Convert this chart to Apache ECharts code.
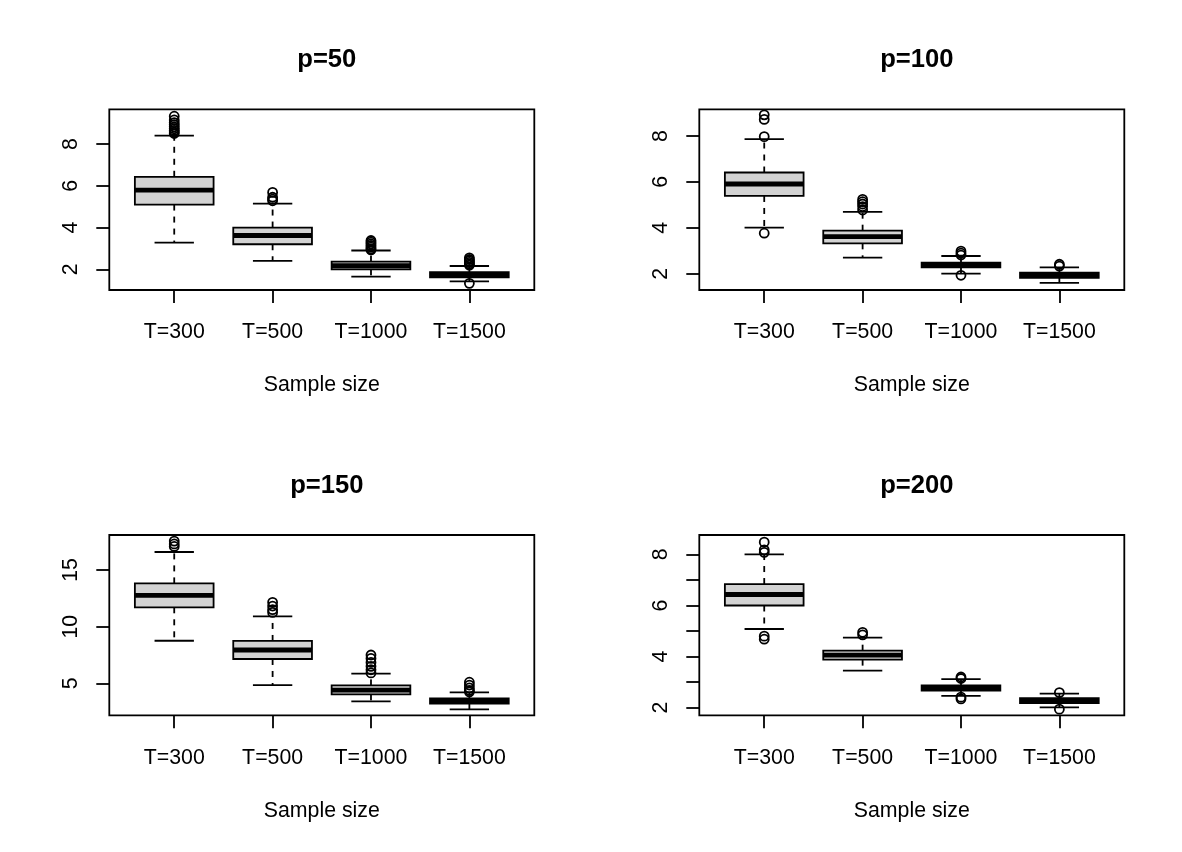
<!DOCTYPE html>
<html>
<head>
<meta charset="utf-8">
<script src="https://cdn.jsdelivr.net/npm/echarts@6/dist/echarts.min.js"></script>
<style>
html,body{margin:0;padding:0;background:#fff;}
#chart{width:1182px;height:852px;}
</style>
</head>
<body>
<div id="chart"></div>
<script>
// ---- data ----
const categories = ['T=300', 'T=500', 'T=1000', 'T=1500'];
const panelTitles = ['p=50', 'p=100', 'p=150', 'p=200'];
const xAxisName = 'Sample size';

// box stats per category: [lower whisker, Q1, median, Q3, upper whisker]
const statsP50 = [
  [3.28, 5.10, 5.79, 6.43, 8.40],
  [2.40, 3.20, 3.62, 4.00, 5.14],
  [1.65, 2.00, 2.17, 2.37, 2.90],
  [1.42, 1.62, 1.75, 1.87, 2.16]
];
const statsP100 = [
  [4.01, 5.39, 5.91, 6.41, 7.86],
  [2.71, 3.33, 3.62, 3.88, 4.70],
  [2.01, 2.28, 2.39, 2.49, 2.78],
  [1.61, 1.83, 1.94, 2.06, 2.28]
];
const statsP150 = [
  [8.76, 11.71, 12.76, 13.82, 16.59],
  [4.85, 7.15, 7.94, 8.74, 10.91],
  [3.41, 4.03, 4.41, 4.82, 5.85],
  [2.71, 3.21, 3.47, 3.68, 4.21]
];
const statsP200 = [
  [5.08, 6.00, 6.43, 6.84, 8.00],
  [3.45, 3.88, 4.06, 4.23, 4.74],
  [2.46, 2.67, 2.77, 2.87, 3.12],
  [2.01, 2.18, 2.27, 2.37, 2.55]
];

// outliers per category
const outP50 = [
  [9.33, 9.15, 9.02, 8.92, 8.82, 8.73, 8.65, 8.57, 8.50],
  [5.68, 5.45, 5.36, 5.28],
  [3.38, 3.30, 3.22, 3.14, 3.06, 2.98, 2.93],
  [2.55, 2.47, 2.40, 2.33, 2.26, 2.20, 1.33]
];
const outP100 = [
  [8.92, 8.72, 7.97, 3.77],
  [5.24, 5.14, 5.04, 4.93, 4.78],
  [2.99, 2.90, 2.82, 1.94],
  [2.42, 2.34]
];
const outP150 = [
  [17.55, 17.30, 17.08],
  [12.15, 11.82, 11.50, 11.26],
  [7.50, 7.20, 6.85, 6.50, 6.20, 5.92],
  [5.10, 4.85, 4.60, 4.38, 4.25]
];
const outP200 = [
  [8.48, 8.18, 8.08, 4.80, 4.68],
  [4.95, 4.85],
  [3.20, 3.14, 2.41, 2.34],
  [2.59, 1.94]
];

// axis extents (R style 4% extension) and ticks
const yRanges = [[1.01, 9.66], [1.30, 9.16], [2.18, 18.09], [1.70, 8.76]];
const yTicks = [[2, 4, 6, 8], [2, 4, 6, 8], [5, 10, 15], [2, 3, 4, 5, 6, 7, 8]];
const yLabels = [[2, 4, 6, 8], [2, 4, 6, 8], [5, 10, 15], [2, 4, 6, 8]];
const xTicks = [1, 2, 3, 4];

// ---- layout ----
const panels = [
  {left: 109.3, top: 109.3, width: 425, height: 180.7},
  {left: 699.3, top: 109.3, width: 425, height: 180.7},
  {left: 109.3, top: 535, width: 425, height: 180.3},
  {left: 699.3, top: 535, width: 425, height: 180.3}
];
const allStats = [statsP50, statsP100, statsP150, statsP200];
const allOut = [outP50, outP100, outP150, outP200];

const FONT = 'Liberation Sans, Arial, Helvetica, sans-serif';
const BASE = 21.3;
const LW = 1.8;

function renderBox(params, api) {
  const x = api.value(0);
  const lo = api.value(1), q1 = api.value(2), med = api.value(3), q3 = api.value(4), hi = api.value(5);
  const half = api.size([0.4, 0])[0];
  const sh = api.size([0.2, 0])[0];
  const pLo = api.coord([x, lo]), pQ1 = api.coord([x, q1]), pMed = api.coord([x, med]);
  const pQ3 = api.coord([x, q3]), pHi = api.coord([x, hi]);
  const cx = pMed[0];
  return {
    type: 'group',
    children: [
      {type: 'line', shape: {x1: cx, y1: pQ3[1], x2: cx, y2: pHi[1]},
        style: {stroke: '#000', lineWidth: LW, lineDash: [6, 6]}},
      {type: 'line', shape: {x1: cx, y1: pQ1[1], x2: cx, y2: pLo[1]},
        style: {stroke: '#000', lineWidth: LW, lineDash: [6, 6]}},
      {type: 'line', shape: {x1: cx - sh, y1: pHi[1], x2: cx + sh, y2: pHi[1]},
        style: {stroke: '#000', lineWidth: LW}},
      {type: 'line', shape: {x1: cx - sh, y1: pLo[1], x2: cx + sh, y2: pLo[1]},
        style: {stroke: '#000', lineWidth: LW}},
      {type: 'rect', shape: {x: cx - half, y: pQ3[1], width: 2 * half, height: pQ1[1] - pQ3[1]},
        style: {fill: '#d3d3d3', stroke: '#000', lineWidth: LW}},
      {type: 'line', shape: {x1: cx - half, y1: pMed[1], x2: cx + half, y2: pMed[1]},
        style: {stroke: '#000', lineWidth: 4.8, lineCap: 'butt'}}
    ]
  };
}

const option = {
  backgroundColor: '#fff',
  animation: false,
  title: [],
  grid: [],
  xAxis: [],
  yAxis: [],
  series: []
};

panels.forEach((p, i) => {
  option.title.push({
    text: panelTitles[i],
    left: p.left + p.width / 2,
    top: p.top - 67,
    textAlign: 'center',
    textStyle: {fontFamily: FONT, fontSize: 25.6, fontWeight: 'bold', color: '#000'}
  });
  option.grid.push({
    left: p.left, top: p.top, width: p.width, height: p.height,
    show: true, borderColor: '#000', borderWidth: LW, backgroundColor: 'transparent'
  });
  option.xAxis.push({
    type: 'value', gridIndex: i, min: 0.34, max: 4.66,
    name: xAxisName, nameLocation: 'middle', nameGap: 85,
    nameTextStyle: {fontFamily: FONT, fontSize: BASE, color: '#000'},
    axisLine: {show: false},
    splitLine: {show: false},
    axisTick: {show: true, length: 13, customValues: xTicks, lineStyle: {color: '#000', width: LW}},
    axisLabel: {show: true, customValues: xTicks, margin: 32,
      fontFamily: FONT, fontSize: BASE, color: '#000',
      formatter: v => categories[Math.round(v) - 1]}
  });
  option.yAxis.push({
    type: 'value', gridIndex: i, min: yRanges[i][0], max: yRanges[i][1],
    axisLine: {show: false},
    splitLine: {show: false},
    axisTick: {show: true, length: 13, customValues: yTicks[i], lineStyle: {color: '#000', width: LW}},
    axisLabel: {show: true, customValues: yLabels[i], rotate: 90, margin: 28,
      fontFamily: FONT, fontSize: BASE, color: '#000'}
  });
  option.series.push({
    type: 'custom', xAxisIndex: i, yAxisIndex: i,
    renderItem: renderBox,
    encode: {x: 0, y: [1, 2, 3, 4, 5]},
    data: allStats[i].map((s, k) => [k + 1].concat(s)),
    silent: true
  });
  const pts = [];
  allOut[i].forEach((arr, k) => arr.forEach(v => pts.push([k + 1, v])));
  option.series.push({
    type: 'scatter', xAxisIndex: i, yAxisIndex: i,
    symbol: 'circle', symbolSize: 9,
    itemStyle: {color: 'rgba(0,0,0,0)', borderColor: '#000', borderWidth: LW, opacity: 1},
    data: pts, silent: true, z: 3
  });
});

const chart = echarts.init(document.getElementById('chart'), null, {renderer: 'canvas'});
chart.setOption(option);
</script>
</body>
</html>
